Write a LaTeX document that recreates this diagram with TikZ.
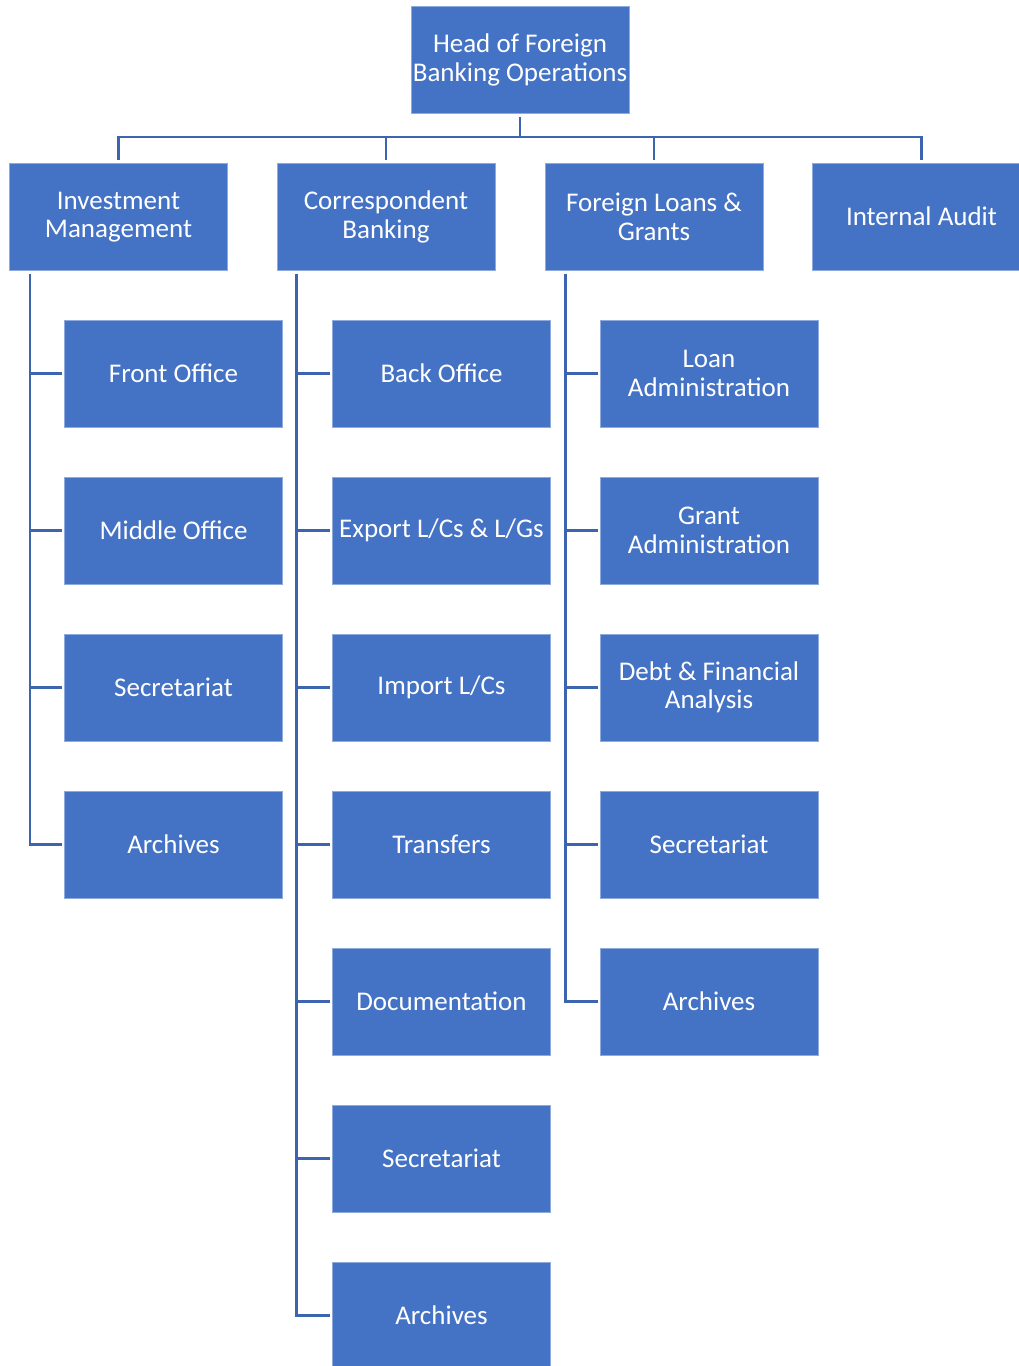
\documentclass[tikz,border=0pt]{standalone}
\usepackage{fontspec}
\setmainfont{Carlito}
\definecolor{boxblue}{HTML}{4472C4}
\definecolor{boxedge}{HTML}{8FAADC}
\definecolor{linkblue}{HTML}{3D65AF}
\tikzset{
  unit/.style={rectangle, fill=boxblue, draw=boxedge, line width=0.8pt,
    minimum width=218pt, minimum height=107pt, inner sep=0pt,
    text=white, align=center, font=\fontsize{27}{28.5}\selectfont},
  conn/.style={draw=linkblue, line width=2.6pt}
}
\begin{document}
\begin{tikzpicture}[x=1pt,y=-1pt]
\useasboundingbox (0,0) rectangle (1019,1366);
\clip (0,0) rectangle (1019,1366);

% top of the chart
\node[unit] (head) at (520,60) {Head of Foreign\\Banking Operations};

% departments
\node[unit] (inv)   at (118.5,217) {Investment\\Management};
\node[unit] (corr)  at (386,217)   {Correspondent\\Banking};
\node[unit] (loans) at (654,217)   {Foreign Loans \&\\Grants};
\node[unit] (audit) at (921.5,216.5) {Internal Audit};

% Investment Management units
\node[unit] (i1) at (173.5,373.5) {Front Office};
\node[unit] (i2) at (173.5,530.5) {Middle Office};
\node[unit] (i3) at (173.5,687.5) {Secretariat};
\node[unit] (i4) at (173.5,844.5) {Archives};

% Correspondent Banking units
\node[unit] (c1) at (441.5,373.5)  {Back Office};
\node[unit] (c2) at (441.5,530.5)  {Export L/Cs \& L/Gs};
\node[unit] (c3) at (441.5,687.5)  {Import L/Cs};
\node[unit] (c4) at (441.5,844.5)  {Transfers};
\node[unit] (c5) at (441.5,1001.5) {Documentation};
\node[unit] (c6) at (441.5,1158.5) {Secretariat};
\node[unit] (c7) at (441.5,1315.5) {Archives};

% Foreign Loans & Grants units
\node[unit] (l1) at (709,373.5)  {Loan\\Administration};
\node[unit] (l2) at (709,530.5)  {Grant\\Administration};
\node[unit] (l3) at (709,687.5)  {Debt \& Financial\\Analysis};
\node[unit] (l4) at (709,844.5)  {Secretariat};
\node[unit] (l5) at (709,1001.5) {Archives};

% head to departments
\coordinate (bus) at (520,137);
\draw[conn] ([yshift=-3pt]head.south) -- (bus);
\draw[conn] ([yshift=3pt]inv.north) |- (bus) -| ([yshift=3pt]audit.north);
\draw[conn] ([yshift=3pt]corr.north) -- (corr.north |- bus);
\draw[conn] ([yshift=3pt]loans.north) -- (loans.north |- bus);

% departments to their units
\foreach \c in {i1,i2,i3,i4}
  \draw[conn] ([xshift=21pt,yshift=-3pt]inv.south west) |- ([xshift=-2pt]\c.west);
\foreach \c in {c1,c2,c3,c4,c5,c6,c7}
  \draw[conn] ([xshift=20pt,yshift=-3pt]corr.south west) |- ([xshift=-2pt]\c.west);
\foreach \c in {l1,l2,l3,l4,l5}
  \draw[conn] ([xshift=21pt,yshift=-3pt]loans.south west) |- ([xshift=-2pt]\c.west);
\end{tikzpicture}
\end{document}
